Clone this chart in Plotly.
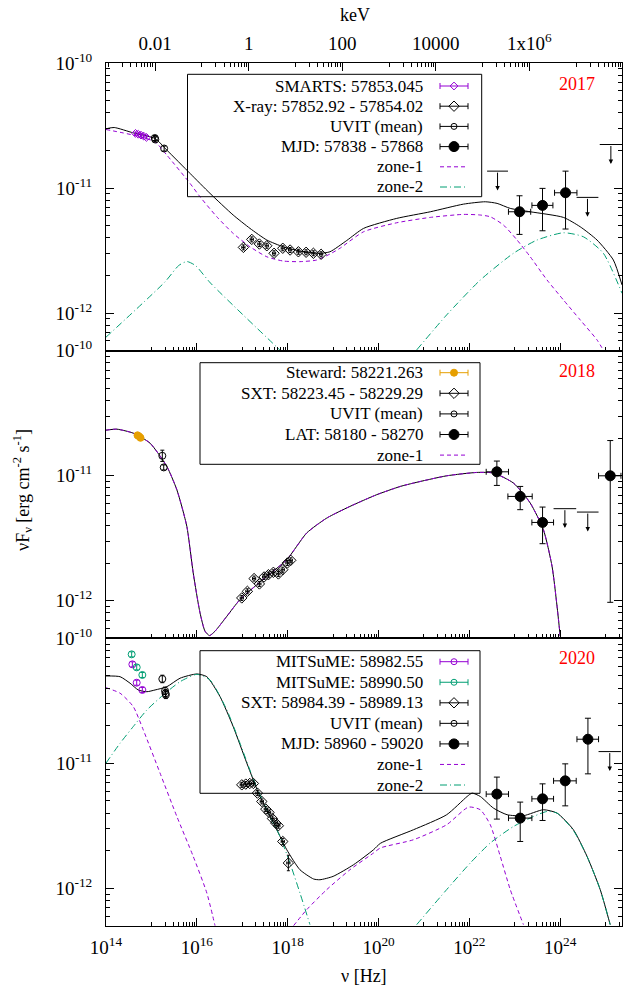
import numpy as np
import plotly.graph_objects as go

# ---------------------------------------------------------------------------
# Broadband SED of the source in three epochs.
# All values are log10(nu / Hz) and log10(nuF_nu / erg cm^-2 s^-1).
# ---------------------------------------------------------------------------

# ---- 2017: model curves ----
m17_nu = [14.0, 14.18, 14.6, 15.08, 15.34, 15.85, 16.29, 16.8, 17.17, 17.54, 17.9, 18.27,
          18.71, 18.93, 19.3, 19.67, 20.4, 21.14, 21.87, 22.35, 22.61, 22.9, 23.34, 24.07,
          24.44, 24.81, 25.17, 25.36]
m17_total = [-10.526, -10.516, -10.559, -10.604, -10.697, -10.883, -11.043, -11.216, -11.323,
             -11.416, -11.470, -11.504, -11.522, -11.51, -11.42, -11.323, -11.243, -11.190,
             -11.129, -11.110, -11.123, -11.163, -11.19, -11.235, -11.31, -11.416, -11.576,
             -11.775]
z1_17_nu = [14.0, 14.6, 15.08, 15.34, 15.85, 16.07, 16.44, 16.8, 17.17, 17.54, 17.9, 18.27,
            18.64, 18.93, 19.15, 19.67, 20.4, 21.14, 21.87, 22.24, 22.46, 22.75, 23.05, 23.34,
            23.71, 24.07, 24.44, 24.81, 24.97]
z1_17 = [-10.532, -10.577, -10.631, -10.737, -10.963, -11.070, -11.230, -11.363, -11.470,
         -11.550, -11.584, -11.589, -11.576, -11.528, -11.482, -11.350, -11.278, -11.235,
         -11.211, -11.216, -11.230, -11.296, -11.416, -11.550, -11.736, -11.895, -12.055,
         -12.215, -12.31]
z2_17_nu = [14.0, 15.3, 15.6, 15.78, 15.97, 16.3, 17.84, None,
            20.84, 21.5, 22.24, 22.97, 23.49, 24.07, 24.51, 24.95, 25.36]
z2_17 = [-12.193, -11.75, -11.62, -11.588, -11.62, -11.76, -12.30, None,
         -12.295, -12.015, -11.736, -11.522, -11.416, -11.358, -11.390, -11.522, -11.842]

# ---- 2017: observations ----
smarts17_nu = [14.65, 14.71, 14.77, 14.83, 14.89]
smarts17_f = [-10.563, -10.570, -10.577, -10.585, -10.595]
uvit17_nu = [15.075, 15.085, 15.28]
uvit17_f = [-10.600, -10.612, -10.684]
xray17_nu = [17.025, 17.209, 17.377, 17.540, 17.700, 17.892, 18.053, 18.236, 18.405, 18.566, 18.736]
xray17_f = [-11.475, -11.411, -11.448, -11.462, -11.522, -11.482, -11.496, -11.510, -11.514,
            -11.522, -11.530]
lat17_nu = [23.104, 23.610, 24.117]
lat17_nu_lo = [22.86, 23.377, 23.875]
lat17_nu_hi = [23.35, 23.839, 24.368]
lat17_f = [-11.190, -11.139, -11.038]
lat17_f_lo = [-11.371, -11.342, -11.328]
lat17_f_hi = [-11.062, -11.003, -10.865]
ul17_nu_lo = [22.39, 24.36, 24.87]
ul17_nu_hi = [22.85, 24.84, 25.36]
ul17_f = [-10.865, -11.075, -10.652]

# ---- 2018: model curve (single zone) ----
m18_nu = [14.0, 14.24, 14.6, 14.97, 15.34, 15.56, 15.78, 15.92, 16.07, 16.18, 16.28, 16.4,
          16.66, 16.95, 17.54, 17.98, 18.42, 18.86, 19.37, 19.96, 20.48, 20.77, 21.5, 22.17,
          22.53, 22.97, 23.34, 23.63, 23.82, 23.93, 24.0]
m18_total = [-10.636, -10.628, -10.660, -10.740, -10.927, -11.113, -11.406, -11.778, -12.097,
             -12.244, -12.279, -12.244, -12.125, -11.991, -11.805, -11.672, -11.458, -11.339,
             -11.246, -11.152, -11.086, -11.059, -11.001, -10.974, -10.979, -11.059, -11.219,
             -11.432, -11.725, -12.045, -12.284]
z1_18_nu = m18_nu
z1_18 = m18_total

# ---- 2018: observations ----
steward18_nu = [14.694, 14.727, 14.760]
steward18_f = [-10.677, -10.685, -10.697]
uvit18_nu = [15.240, 15.271]
uvit18_f = [-10.841, -10.934]
uvit18_err = [0.045, 0.02]
sxt18_nu = [16.989, 17.113, 17.260, 17.377, 17.480, 17.576, 17.685, 17.795, 17.892, 17.994, 18.068]
sxt18_f = [-11.978, -11.925, -11.823, -11.866, -11.810, -11.792, -11.773, -11.786, -11.752,
           -11.698, -11.677]
lat18_nu = [22.605, 23.119, 23.611, 25.101]
lat18_nu_lo = [22.370, 22.848, 23.376, 24.844]
lat18_nu_hi = [22.861, 23.383, 23.853, 25.337]
lat18_f = [-10.969, -11.166, -11.374, -11.001]
lat18_f_lo = [-11.078, -11.272, -11.544, -12.013]
lat18_f_hi = [-10.883, -11.086, -11.251, -10.719]
ul18_nu_lo = [23.853, 24.368]
ul18_nu_hi = [24.352, 24.844]
ul18_f = [-11.264, -11.291]

# ---- 2020: model curves ----
m20_nu = [14.0, 14.31, 14.53, 14.71, 14.9, 15.08, 15.34, 15.63, 16.0, 16.22, 16.51, 16.8,
          17.1, 17.39, 17.69, 17.98, 18.27, 18.57, 18.71, 19.0, 19.45, 19.89, 20.04, 20.77,
          21.5, 21.95, 22.06, 22.24, 22.53, 22.83, 23.19, 23.63, 23.93, 24.29, 24.59, 24.88,
          25.1]
m20_total = [-10.301, -10.307, -10.359, -10.413, -10.427, -10.413, -10.387, -10.319, -10.285,
             -10.307, -10.466, -10.706, -10.998, -11.265, -11.478, -11.691, -11.851, -11.925,
             -11.931, -11.904, -11.811, -11.691, -11.640, -11.531, -11.411, -11.265, -11.238,
             -11.265, -11.358, -11.411, -11.419, -11.371, -11.398, -11.531, -11.744, -12.010,
             -12.290]
z1_20_nu = [14.0, 14.31, 14.6, 14.82, 15.19, 15.56, 15.92, 16.22, 16.4, None,
            18.13, 18.42, 18.86, 19.37, 19.89, 20.04, 20.77, 21.5, 21.98, 22.24, 22.46, 22.68,
            22.9, 23.19]
z1_20 = [-10.395, -10.439, -10.546, -10.732, -11.078, -11.425, -11.744, -12.037, -12.298, None,
         -12.298, -12.170, -12.010, -11.851, -11.717, -11.677, -11.611, -11.491, -11.35, -11.371,
         -11.491, -11.744, -12.010, -12.290]
z2_20_nu = [14.0, 14.31, 14.6, 14.9, 15.26, 15.63, 16.0, 16.29, 16.66, 16.95, 17.25, 17.54,
            17.83, 18.05, 18.27, 18.49, None,
            20.84, 21.5, 22.02, 22.46, 22.97, 23.41, 23.71, 23.93, 24.29, 24.59, 24.88, 25.1]
z2_20 = [-10.998, -10.839, -10.706, -10.573, -10.453, -10.347, -10.288, -10.333, -10.573,
         -10.839, -11.132, -11.371, -11.585, -11.797, -12.037, -12.290, None,
         -12.290, -12.010, -11.797, -11.637, -11.505, -11.425, -11.385, -11.398, -11.537,
         -11.744, -12.010, -12.290]

# ---- 2020: observations ----
mits1_20_nu = [14.580, 14.676, 14.800]
mits1_20_f = [-10.208, -10.355, -10.413]
mits2_20_nu = [14.565, 14.676, 14.800]
mits2_20_f = [-10.128, -10.232, -10.293]
uvit20_nu = [15.240, 15.300, 15.310, 15.318]
uvit20_f = [-10.325, -10.420, -10.440, -10.452]
sxt20_nu = [16.989, 17.077, 17.165, 17.245, 17.333, 17.430, 17.518, 17.590, 17.663, 17.738,
            17.795, 17.892, 18.015]
sxt20_f = [-11.172, -11.166, -11.161, -11.161, -11.238, -11.305, -11.366, -11.393, -11.441,
           -11.478, -11.499, -11.625, -11.797]
sxt20_ferr = [0.02, 0.02, 0.02, 0.02, 0.02, 0.02, 0.02, 0.02, 0.02, 0.02, 0.02, 0.025, 0.062]
lat20_nu = [22.605, 23.119, 23.611, 24.110, 24.610]
lat20_nu_lo = [22.370, 22.861, 23.376, 23.853, 24.368]
lat20_nu_hi = [22.861, 23.376, 23.853, 24.352, 24.844]
lat20_f = [-11.246, -11.438, -11.284, -11.140, -10.807]
lat20_f_lo = [-11.446, -11.625, -11.457, -11.340, -11.084]
lat20_f_hi = [-11.110, -11.310, -11.164, -11.004, -10.639]
ul20_nu_lo = [24.844]
ul20_nu_hi = [25.337]
ul20_f = [-10.906]

# ---------------------------------------------------------------------------
PURPLE = "#9400d3"
GREEN = "#009e73"
ORANGE = "#e69f00"
FONT = "Liberation Serif, Times New Roman, serif"
ZONE1_DASH = "4px,3px"
ZONE2_DASH = "7px,3px,1px,3px"
UL_ARROW = 0.155  # arrow length of upper limits, in dex

AXES = {1: ("x", "y"), 2: ("x2", "y2"), 3: ("x3", "y3")}


def lin(v):
    return np.array([np.nan if a is None else 10.0 ** a for a in v], dtype=float)


fig = go.Figure()


def curve(panel, nu, f, color, dash=None, width=1.0):
    xa, ya = AXES[panel]
    fig.add_trace(go.Scatter(
        x=lin(nu), y=lin(f), mode="lines", xaxis=xa, yaxis=ya,
        line=dict(color=color, width=width, dash=dash, shape="spline", smoothing=0.6),
        connectgaps=False, showlegend=False, hoverinfo="skip"))


def points(panel, nu, f, symbol, size, color, f_lo=None, f_hi=None, nu_lo=None, nu_hi=None,
           line_w=1.0, cap=3, errcolor="black"):
    xa, ya = AXES[panel]
    x, y = lin(nu), lin(f)
    kw = {}
    if f_lo is not None:
        kw["error_y"] = dict(type="data", symmetric=False, array=lin(f_hi) - y,
                             arrayminus=y - lin(f_lo), color=errcolor, thickness=1, width=cap)
    if nu_lo is not None:
        kw["error_x"] = dict(type="data", symmetric=False, array=lin(nu_hi) - x,
                             arrayminus=x - lin(nu_lo), color=errcolor, thickness=1, width=cap)
    fig.add_trace(go.Scatter(
        x=x, y=y, mode="markers", xaxis=xa, yaxis=ya,
        marker=dict(symbol=symbol, size=size, color=color, line=dict(color=color, width=line_w)),
        showlegend=False, hoverinfo="skip", **kw))


def sym_err(vals, err):
    if np.isscalar(err):
        err = [err] * len(vals)
    return [v - e for v, e in zip(vals, err)], [v + e for v, e in zip(vals, err)]


def upper_limits(panel, nu_lo, nu_hi, f):
    xa, ya = AXES[panel]
    bx, by = [], []
    for a, b, v in zip(nu_lo, nu_hi, f):
        bx += [a, b, None]
        by += [v, v, None]
    fig.add_trace(go.Scatter(x=lin(bx), y=lin(by), mode="lines", xaxis=xa, yaxis=ya,
                             line=dict(color="black", width=1), connectgaps=False,
                             showlegend=False, hoverinfo="skip"))
    for a, b, v in zip(nu_lo, nu_hi, f):
        c = 0.5 * (a + b)
        fig.add_annotation(x=c, y=v - UL_ARROW, ax=c, ay=v, xref=xa, yref=ya, axref=xa, ayref=ya,
                           text="", showarrow=True, arrowhead=2, arrowsize=0.9, arrowwidth=1,
                           arrowcolor="black", standoff=0, startstandoff=0)


# ---- panel 1: 2017 ----
curve(1, z2_17_nu, z2_17, GREEN, ZONE2_DASH)
curve(1, z1_17_nu, z1_17, PURPLE, ZONE1_DASH)
curve(1, m17_nu, m17_total, "black")
lo, hi = sym_err(smarts17_f, 0.012)
nlo, nhi = sym_err(smarts17_nu, 0.01)
points(1, smarts17_nu, smarts17_f, "diamond-open", 6, PURPLE, lo, hi, nlo, nhi, cap=1, errcolor=PURPLE)
lo, hi = sym_err(uvit17_f, 0.02)
points(1, uvit17_nu, uvit17_f, "circle-open", 7, "black", lo, hi, cap=2)
lo, hi = sym_err(xray17_f, 0.02)
nlo, nhi = sym_err(xray17_nu, 0.035)
points(1, xray17_nu, xray17_f, "diamond-open", 8, "black", lo, hi, nlo, nhi, cap=1.5)
points(1, lat17_nu, lat17_f, "circle", 10, "black", lat17_f_lo, lat17_f_hi, lat17_nu_lo, lat17_nu_hi)
upper_limits(1, ul17_nu_lo, ul17_nu_hi, ul17_f)

# ---- panel 2: 2018 ----
curve(2, m18_nu, m18_total, "black")
curve(2, z1_18_nu, z1_18, PURPLE, ZONE1_DASH)
lo, hi = sym_err(steward18_f, 0.01)
points(2, steward18_nu, steward18_f, "circle", 7, ORANGE, lo, hi, cap=1, errcolor=ORANGE)
lo, hi = sym_err(uvit18_f, uvit18_err)
points(2, uvit18_nu, uvit18_f, "circle-open", 7, "black", lo, hi, cap=2)
lo, hi = sym_err(sxt18_f, 0.02)
nlo, nhi = sym_err(sxt18_nu, 0.035)
points(2, sxt18_nu, sxt18_f, "diamond-open", 8, "black", lo, hi, nlo, nhi, cap=1.5)
points(2, lat18_nu, lat18_f, "circle", 10, "black", lat18_f_lo, lat18_f_hi, lat18_nu_lo, lat18_nu_hi)
upper_limits(2, ul18_nu_lo, ul18_nu_hi, ul18_f)

# ---- panel 3: 2020 ----
curve(3, z1_20_nu, z1_20, PURPLE, ZONE1_DASH)
curve(3, m20_nu, m20_total, "black")
curve(3, z2_20_nu, z2_20, GREEN, ZONE2_DASH)
lo, hi = sym_err(mits1_20_f, 0.02)
points(3, mits1_20_nu, mits1_20_f, "circle-open", 7, PURPLE, lo, hi, cap=2, errcolor=PURPLE)
lo, hi = sym_err(mits2_20_f, 0.02)
points(3, mits2_20_nu, mits2_20_f, "circle-open", 7, GREEN, lo, hi, cap=2, errcolor=GREEN)
lo, hi = sym_err(uvit20_f, 0.03)
points(3, uvit20_nu, uvit20_f, "circle-open", 7, "black", lo, hi, cap=2)
lo, hi = sym_err(sxt20_f, sxt20_ferr)
nlo, nhi = sym_err(sxt20_nu, 0.035)
points(3, sxt20_nu, sxt20_f, "diamond-open", 8, "black", lo, hi, nlo, nhi, cap=1.5)
points(3, lat20_nu, lat20_f, "circle", 10, "black", lat20_f_lo, lat20_f_hi, lat20_nu_lo, lat20_nu_hi)
upper_limits(3, ul20_nu_lo, ul20_nu_hi, ul20_f)

# ---------------------------------------------------------------------------
# Legends (text right-aligned, sample on the right, gnuplot style)
# Positions are in paper coordinates; the samples live on an invisible
# full-size [0,1]x[0,1] subplot.
W, H = 635, 991
ML, MR, MT, MB = 106, 13, 63, 65
PW, PH = W - ML - MR, H - MT - MB


def px(x):
    return (x - ML) / PW


def py(y):
    return (H - MB - y) / PH


TEXT_R = px(425)
SAMPLE_C = px(454)
SAMPLE_HALF = 14 / PW
LINE_A, LINE_B = px(440), px(466)

legends = [
    # (box x0, x1, y0, y1 in px), first row y, row step, rows
    ((187.5, 481.7, 74.3, 196.7), 86.0, 20.2, [
        ("SMARTS: 57853.045", "diamond-open", PURPLE, 6),
        ("X-ray: 57852.92 - 57854.02", "diamond-open", "black", 8),
        ("UVIT (mean)", "circle-open", "black", 6),
        ("MJD: 57838 - 57868", "circle", "black", 10),
        ("zone-1", "z1", PURPLE, 0),
        ("zone-2", "z2", GREEN, 0)]),
    ((200, 480, 362.7, 464.3), 372.7, 20.6, [
        ("Steward: 58221.263", "circle", ORANGE, 7),
        ("SXT: 58223.45 - 58229.29", "diamond-open", "black", 8),
        ("UVIT (mean)", "circle-open", "black", 6),
        ("LAT: 58180 - 58270", "circle", "black", 10),
        ("zone-1", "z1", PURPLE, 0)]),
    ((200, 480, 650.7, 793.3), 661.7, 20.55, [
        ("MITSuME: 58982.55", "circle-open", PURPLE, 6),
        ("MITSuME: 58990.50", "circle-open", GREEN, 6),
        ("SXT: 58984.39 - 58989.13", "diamond-open", "black", 8),
        ("UVIT (mean)", "circle-open", "black", 6),
        ("MJD: 58960 - 59020", "circle", "black", 10),
        ("zone-1", "z1", PURPLE, 0),
        ("zone-2", "z2", GREEN, 0)]),
]

shapes = []
for (bx0, bx1, by0, by1), y0, step, rows in legends:
    shapes.append(dict(type="rect", xref="paper", yref="paper", x0=px(bx0), x1=px(bx1),
                       y0=py(by1), y1=py(by0), line=dict(color="black", width=1),
                       fillcolor="rgba(0,0,0,0)", layer="above"))
    for i, (label, kind, color, size) in enumerate(rows):
        yy = py(y0 + i * step)
        fig.add_annotation(x=TEXT_R, y=yy, xref="paper", yref="paper", text=label,
                           showarrow=False, xanchor="right", yanchor="middle",
                           font=dict(family=FONT, size=17, color="black"))
        if kind in ("z1", "z2"):
            fig.add_trace(go.Scatter(
                x=[LINE_A, LINE_B], y=[yy, yy], mode="lines", xaxis="x5", yaxis="y5",
                line=dict(color=color, width=1, dash=ZONE1_DASH if kind == "z1" else ZONE2_DASH),
                showlegend=False, hoverinfo="skip"))
        else:
            fig.add_trace(go.Scatter(
                x=[SAMPLE_C], y=[yy], mode="markers", xaxis="x5", yaxis="y5",
                marker=dict(symbol=kind, size=size, color=color, line=dict(color=color, width=1)),
                error_x=dict(type="constant", value=SAMPLE_HALF, color=color, thickness=1, width=3),
                showlegend=False, hoverinfo="skip"))

# Epoch labels
for yr, ypx in (("2017", 84), ("2018", 371), ("2020", 658)):
    fig.add_annotation(x=px(597), y=py(ypx), xref="paper", yref="paper", text=yr,
                       showarrow=False, xanchor="right", yanchor="middle",
                       font=dict(family=FONT, size=18, color="#ff0000"))

# Axis titles
fig.add_annotation(x=px(364), y=py(976), xref="paper", yref="paper", text="ν [Hz]",
                   showarrow=False, xanchor="center", yanchor="middle",
                   font=dict(family=FONT, size=18, color="black"))
fig.add_annotation(x=px(355), y=py(15), xref="paper", yref="paper", text="keV",
                   showarrow=False, xanchor="center", yanchor="middle",
                   font=dict(family=FONT, size=18, color="black"))
fig.add_annotation(x=px(22), y=py(490), xref="paper", yref="paper", textangle=-90,
                   text="νF<sub>ν</sub> [erg cm<sup>-2</sup> s<sup>-1</sup>]",
                   showarrow=False, xanchor="center", yanchor="middle",
                   font=dict(family=FONT, size=18, color="black"))

# ---------------------------------------------------------------------------
# Axes
XRANGE = [14.0, 25.36]
YRANGE = [np.log10(5e-13), -10.0]
x_major = [1e14, 1e16, 1e18, 1e20, 1e22, 1e24]
x_major_text = ["10<sup>%d</sup>" % e for e in (14, 16, 18, 20, 22, 24)]
x_minor = [k * 10.0 ** e for e in (15, 17, 19, 21, 23, 25) for k in range(1, 10)]
y_major = [1e-12, 1e-11, 1e-10]
y_major_text = ["10<sup>-12</sup>", "10<sup>-11</sup>", "10<sup>-10</sup>"]
y_minor = [k * 1e-13 for k in range(5, 10)] + [k * 1e-12 for k in range(2, 10)] + \
          [k * 1e-11 for k in range(2, 10)]
kev_major = [1e-2, 1.0, 1e2, 1e4, 1e6]
kev_major_text = ["0.01", "1", "100", "10000", "1x10<sup>6</sup>"]
kev_minor = [k * 10.0 ** e for e in (-3, -1, 1, 3, 5, 7) for k in range(1, 10)]

tickfont = dict(family=FONT, size=19, color="black")
minor_style = dict(ticks="inside", ticklen=4, tickcolor="black", tickwidth=1, showgrid=False)
domains = {1: [2 / 3, 1.0], 2: [1 / 3, 2 / 3], 3: [0.0, 1 / 3]}

layout = dict(
    width=W, height=H, margin=dict(l=ML, r=MR, t=MT, b=MB, pad=0),
    paper_bgcolor="white", plot_bgcolor="rgba(0,0,0,0)", showlegend=False,
    font=dict(family=FONT, size=17, color="black"), shapes=shapes,
)
for p in (1, 2, 3):
    sx = "" if p == 1 else str(p)
    layout["xaxis" + sx] = dict(
        type="log", range=XRANGE, domain=[0, 1], anchor="y" + sx,
        showline=True, linecolor="black", linewidth=1, mirror=True,
        ticks="inside", ticklen=8, tickcolor="black", tickwidth=1,
        tickmode="array", tickvals=x_major, ticktext=x_major_text,
        showticklabels=(p == 3), tickfont=tickfont, showgrid=False, zeroline=False,
        ticklabelstandoff=4,
        minor=dict(tickmode="array", tickvals=x_minor, **minor_style),
        **({} if p == 1 else {"matches": "x"}))
    layout["yaxis" + sx] = dict(
        type="log", range=YRANGE, domain=domains[p], anchor="x" + sx,
        showline=True, linecolor="black", linewidth=1, mirror="ticks",
        ticks="inside", ticklen=8, tickcolor="black", tickwidth=1,
        tickmode="array", tickvals=y_major, ticktext=y_major_text,
        tickfont=tickfont, showgrid=False, zeroline=False, ticklabelstandoff=9,
        minor=dict(tickmode="array", tickvals=y_minor, **minor_style))

layout["xaxis4"] = dict(
    type="log", range=[-3.05, 7.98], overlaying="x", side="top", anchor="y",
    showline=False, ticks="inside", ticklen=8, tickcolor="black", tickwidth=1,
    tickmode="array", tickvals=kev_major, ticktext=kev_major_text, tickfont=tickfont,
    showgrid=False, zeroline=False, ticklabelstandoff=8,
    minor=dict(tickmode="array", tickvals=kev_minor, **minor_style))
layout["xaxis5"] = dict(domain=[0, 1], range=[0, 1], anchor="y5", visible=False)
layout["yaxis5"] = dict(domain=[0, 1], range=[0, 1], anchor="x5", visible=False)

# keep the keV axis attached to a (non-drawn) trace so that it is rendered
fig.add_trace(go.Scatter(x=[], y=[], xaxis="x4", yaxis="y", showlegend=False))

fig.update_layout(**layout)
fig.write_html("out.html")
